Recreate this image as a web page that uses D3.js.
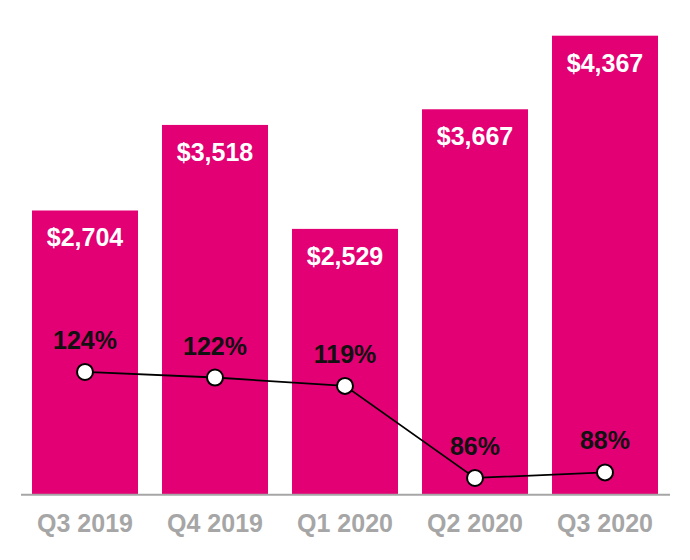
<!DOCTYPE html>
<html><head><meta charset="utf-8">
<script src="https://cdn.jsdelivr.net/npm/d3@7"></script>
<style>body{margin:0;background:#fff}svg{display:block}</style>
</head><body>
<svg id="c" width="690" height="560"></svg>
<script>
const categories = ["Q3 2019","Q4 2019","Q1 2020","Q2 2020","Q3 2020"];
const barValues = [2704, 3518, 2529, 3667, 4367];
const pctValues = [124, 122, 119, 86, 88];

const svg = d3.select("#c");
const font = "Arial, 'Liberation Sans', sans-serif";
const baseY = 494.7;
const x = d3.scaleBand().domain(categories).range([20, 670]).paddingInner(0.1846).paddingOuter(0.0923);
const y = d3.scaleLinear().domain([0, 4367]).range([baseY, 35.7]);
const yl = d3.scaleLinear().domain([80, 130]).range([baseY, 355.2]);

svg.selectAll("rect.bar").data(barValues).join("rect")
  .attr("class","bar")
  .attr("x",(d,i)=>x(categories[i]))
  .attr("y",d=>y(d))
  .attr("width",x.bandwidth())
  .attr("height",d=>baseY-y(d))
  .attr("fill","#E20074");

svg.selectAll("text.val").data(barValues).join("text")
  .attr("class","val")
  .attr("x",(d,i)=>x(categories[i])+x.bandwidth()/2)
  .attr("y",d=>y(d)+36)
  .attr("text-anchor","middle")
  .attr("font-family",font).attr("font-weight","bold").attr("font-size",25)
  .attr("fill","#fff")
  .text(d=>"$"+d3.format(",")(d));

// axis
const axis = svg.append("g").attr("transform",`translate(0,${baseY})`)
  .call(d3.axisBottom(x).tickSize(0).tickPadding(20));
axis.select(".domain").attr("d","M21,0H670").attr("stroke","#a6a6a6").attr("stroke-width",2);
axis.selectAll(".tick text").attr("font-family",font).attr("font-weight","bold")
  .attr("font-size",25).attr("fill","#a6a6a6");

const cx = (d,i)=>x(categories[i])+x.bandwidth()/2;
const line = d3.line().x((d,i)=>cx(d,i)).y(d=>yl(d));
svg.append("path").datum(pctValues).attr("d",line)
  .attr("fill","none").attr("stroke","#000").attr("stroke-width",1.8);

svg.selectAll("circle.pt").data(pctValues).join("circle")
  .attr("class","pt")
  .attr("cx",cx).attr("cy",d=>yl(d)).attr("r",8)
  .attr("fill","#fff").attr("stroke","#000").attr("stroke-width",2);

svg.selectAll("text.pct").data(pctValues).join("text")
  .attr("class","pct")
  .attr("x",cx).attr("y",d=>yl(d)-23)
  .attr("text-anchor","middle")
  .attr("font-family",font).attr("font-weight","bold").attr("font-size",25)
  .attr("fill","#111")
  .text(d=>d+"%");
</script>
</body></html>
